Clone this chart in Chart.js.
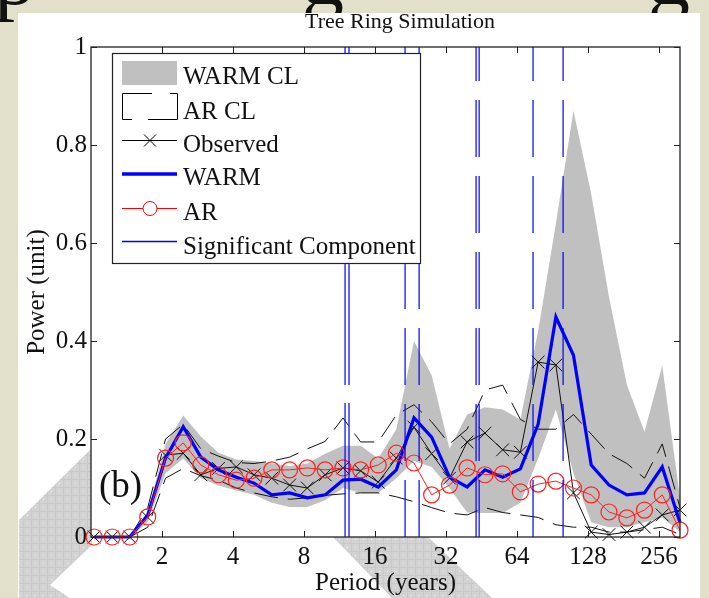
<!DOCTYPE html>
<html>
<head>
<meta charset="utf-8">
<script src="https://cdn.jsdelivr.net/npm/chart.js@4.4.0/dist/chart.umd.min.js"></script>
<style>
  html, body { margin: 0; padding: 0; background: #e2dfca; }
  #wrap { width: 709px; height: 598px; position: relative; }
  canvas { display: block; }
</style>
</head>
<body>
<div id="wrap"><canvas id="c" width="709" height="598"></canvas></div>
<script>
// ---- Data ----
const periods = [1.03, 1.23, 1.46, 1.74, 2.07, 2.46, 2.92, 3.47, 4.13, 4.91, 5.84, 6.95, 8.26, 9.83, 11.7, 13.9, 16.5, 19.7, 23.4, 27.8, 33.1, 39.3, 46.8, 55.6, 66.1, 78.6, 93.5, 111, 132, 157, 187, 222, 264, 314];
const warmClUpper = [0, 0, 0, 0.05, 0.19, 0.248, 0.205, 0.172, 0.158, 0.155, 0.15, 0.145, 0.15, 0.17, 0.186, 0.186, 0.16, 0.22, 0.40, 0.33, 0.18, 0.25, 0.265, 0.26, 0.24, 0.42, 0.64, 0.87, 0.70, 0.49, 0.31, 0.215, 0.35, 0.08];
const warmClLower = [0, 0, 0, 0.03, 0.13, 0.16, 0.12, 0.105, 0.095, 0.086, 0.07, 0.061, 0.061, 0.075, 0.1, 0.09, 0.09, 0.12, 0.155, 0.143, 0.1, 0.05, 0.049, 0.049, 0.07, 0.16, 0.26, 0.13, 0.03, 0.02, 0.02, 0.03, 0.04, 0.01];
const arClUpper = [0, 0, 0, 0.06, 0.2, 0.23, 0.18, 0.165, 0.152, 0.15, 0.155, 0.163, 0.18, 0.195, 0.243, 0.194, 0.194, 0.249, 0.27, 0.235, 0.19, 0.22, 0.3, 0.31, 0.24, 0.22, 0.22, 0.25, 0.21, 0.17, 0.15, 0.12, 0.19, 0.06];
const arClLower = [0, 0, 0, 0.02, 0.12, 0.14, 0.125, 0.116, 0.1, 0.09, 0.082, 0.077, 0.08, 0.085, 0.088, 0.09, 0.09, 0.082, 0.072, 0.06, 0.049, 0.045, 0.06, 0.05, 0.045, 0.04, 0.025, 0.02, 0.02, 0.01, 0.01, 0.015, 0.02, 0.005];
const observed = [0, 0, 0, 0.04, 0.167, 0.171, 0.127, 0.14, 0.143, 0.127, 0.12, 0.106, 0.1, 0.127, 0.141, 0.135, 0.112, 0.161, 0.224, 0.17, 0.12, 0.194, 0.212, 0.178, 0.173, 0.357, 0.351, 0.09, 0.01, 0.005, 0.01, 0.02, 0.045, 0.055];
const warm = [0, 0, 0, 0.045, 0.161, 0.225, 0.163, 0.137, 0.122, 0.11, 0.086, 0.09, 0.08, 0.086, 0.116, 0.118, 0.102, 0.137, 0.243, 0.204, 0.122, 0.102, 0.137, 0.122, 0.139, 0.23, 0.449, 0.371, 0.147, 0.106, 0.086, 0.09, 0.143, 0.029];
const ar = [0, 0, 0, 0.041, 0.161, 0.192, 0.147, 0.127, 0.116, 0.12, 0.137, 0.137, 0.141, 0.137, 0.141, 0.137, 0.147, 0.171, 0.151, 0.086, 0.106, 0.141, 0.127, 0.129, 0.092, 0.108, 0.114, 0.1, 0.086, 0.051, 0.039, 0.055, 0.086, 0.014];
const significantPeriods = [11.94, 12.41, 21.45, 24.6, 42.9, 44.2, 74.8, 100.3];
const xTickValues = [2, 4, 8, 16, 32, 64, 128, 256];
const yTickValues = [0, 0.2, 0.4, 0.6, 0.8, 1];
const legendLabels = ['WARM CL', 'AR CL', 'Observed', 'WARM', 'AR', 'Significant Component'];
const chartTitle = 'Tree Ring Simulation';

// ---- Styling ----
const SERIF = "'Liberation Serif', 'Times New Roman', 'DejaVu Serif', serif";
const pts = arr => periods.map((p, i) => ({ x: p, y: arr[i] }));

const sigDash = [[134, 18], [134, 18], [57, 19], [57, 19], [57, 19], [57, 19], [57, 19], [57, 19]];
const sigSets = significantPeriods.map((p, i) => ({
  label: 'Significant Component',
  data: [{ x: p, y: 0 }, { x: p, y: 1 }],
  borderColor: '#0000ff', borderWidth: 1.2, borderDash: sigDash[i],
  pointRadius: 0, fill: false, order: 0
}));

function makePattern(ctx) {
  const pc = document.createElement('canvas');
  pc.width = 8; pc.height = 8;
  const p = pc.getContext('2d');
  p.fillStyle = '#d3d3d3'; p.fillRect(0, 0, 8, 8);
  p.fillStyle = '#c9c9c9'; p.fillRect(0, 7, 8, 1); p.fillRect(7, 0, 1, 8);
  p.fillStyle = '#f4f4f4'; p.fillRect(3, 3, 1, 1);
  return ctx.createPattern(pc, 'repeat');
}

const backgroundPlugin = {
  id: 'bgPanel',
  beforeDraw(chart) {
    const ctx = chart.ctx;
    const ca = chart.chartArea;
    ctx.save();
    ctx.fillStyle = '#e2dfca';
    ctx.fillRect(0, 0, chart.width, chart.height);
    // fragments of the slide heading above the figure
    ctx.fillStyle = '#111';
    ctx.font = '84px ' + SERIF;
    ctx.textBaseline = 'alphabetic';
    ctx.fillText('p', -6, 4);
    ctx.fillText('g', 302, 4);
    ctx.fillText('g', 648, 4);
    ctx.fillStyle = '#ffffff';
    ctx.fillRect(18, 13, 682, 585);
    const pat = makePattern(ctx);
    ctx.fillStyle = pat;
    ctx.beginPath();
    ctx.moveTo(92, 448); ctx.lineTo(19, 520); ctx.lineTo(19, 598);
    ctx.lineTo(70, 598); ctx.lineTo(50, 585); ctx.lineTo(92, 545);
    ctx.closePath(); ctx.fill();
    ctx.beginPath();
    ctx.moveTo(333, 537); ctx.lineTo(428, 537); ctx.lineTo(492, 598); ctx.lineTo(392, 598);
    ctx.closePath(); ctx.fill();
    ctx.fillStyle = '#ffffff';
    ctx.fillRect(ca.left, ca.top, ca.right - ca.left, ca.bottom - ca.top);
    // title
    ctx.fillStyle = '#111';
    ctx.font = '22px ' + SERIF;
    ctx.textAlign = 'center';
    ctx.fillText(chartTitle, 400, 28);
    ctx.restore();
  }
};

const overlayPlugin = {
  id: 'overlay',
  afterDatasetsDraw(chart) {
    const ctx = chart.ctx;
    const ca = chart.chartArea;
    const xs = chart.scales.x, ys = chart.scales.y;
    ctx.save();
    ctx.strokeStyle = '#222'; ctx.lineWidth = 1.3;
    ctx.strokeRect(ca.left, ca.top, ca.right - ca.left, ca.bottom - ca.top);
    ctx.lineWidth = 1;
    ctx.beginPath();
    xTickValues.forEach(v => {
      const px = Math.round(xs.getPixelForValue(v)) + 0.5;
      ctx.moveTo(px, ca.bottom); ctx.lineTo(px, ca.bottom - 6);
      ctx.moveTo(px, ca.top); ctx.lineTo(px, ca.top + 6);
    });
    yTickValues.forEach(v => {
      const py = Math.round(ys.getPixelForValue(v)) + 0.5;
      ctx.moveTo(ca.left, py); ctx.lineTo(ca.left + 6, py);
      ctx.moveTo(ca.right, py); ctx.lineTo(ca.right - 6, py);
    });
    ctx.stroke();

    ctx.fillStyle = '#111';
    ctx.font = '37px ' + SERIF;
    ctx.textBaseline = 'alphabetic'; ctx.textAlign = 'left';
    ctx.fillText('(b)', 99, 497);

    // legend
    const L = 112, T = 53, R = 420, B = 263;
    ctx.fillStyle = '#ffffff';
    ctx.fillRect(L, T, R - L, B - T);
    ctx.strokeStyle = '#222'; ctx.lineWidth = 1.2;
    ctx.strokeRect(L + 0.5, T + 0.5, R - L, B - T);
    const sx0 = 122, sx1 = 177, cx = 150;
    ctx.fillStyle = '#c0c0c0';
    ctx.fillRect(sx0, 61, sx1 - sx0, 24);
    ctx.strokeStyle = '#000'; ctx.lineWidth = 1;
    ctx.beginPath();
    ctx.moveTo(sx0 + 0.5, 93.5); ctx.lineTo(152, 93.5);
    ctx.moveTo(170, 93.5); ctx.lineTo(sx1 + 0.5, 93.5); ctx.lineTo(sx1 + 0.5, 119.5); ctx.lineTo(148, 119.5);
    ctx.moveTo(132, 119.5); ctx.lineTo(sx0 + 0.5, 119.5); ctx.lineTo(sx0 + 0.5, 93.5);
    ctx.stroke();
    ctx.beginPath();
    ctx.moveTo(sx0, 140.5); ctx.lineTo(sx1, 140.5);
    ctx.moveTo(cx - 6, 134.5); ctx.lineTo(cx + 6, 146.5);
    ctx.moveTo(cx + 6, 134.5); ctx.lineTo(cx - 6, 146.5);
    ctx.stroke();
    ctx.strokeStyle = '#0000ff'; ctx.lineWidth = 3.5;
    ctx.beginPath(); ctx.moveTo(sx0, 174); ctx.lineTo(sx1, 174); ctx.stroke();
    ctx.strokeStyle = '#ff0000'; ctx.lineWidth = 1;
    ctx.beginPath(); ctx.moveTo(sx0, 208.5); ctx.lineTo(cx - 7, 208.5);
    ctx.moveTo(cx + 7, 208.5); ctx.lineTo(sx1, 208.5); ctx.stroke();
    ctx.beginPath(); ctx.arc(cx, 208.5, 7, 0, Math.PI * 2); ctx.stroke();
    ctx.strokeStyle = '#0000ff'; ctx.lineWidth = 1.3;
    ctx.beginPath(); ctx.moveTo(sx0, 241.5); ctx.lineTo(sx1, 241.5); ctx.stroke();
    ctx.fillStyle = '#111';
    ctx.font = '25px ' + SERIF;
    const baselines = [84, 119, 152, 185, 220, 254];
    legendLabels.forEach((t, i) => ctx.fillText(t, 183, baselines[i]));
    ctx.restore();
  }
};

const chart = new Chart(document.getElementById('c'), {
  type: 'line',
  data: {
    datasets: [
      { label: 'WARM CL', data: pts(warmClUpper), borderWidth: 0, borderColor: 'rgba(0,0,0,0)',
        backgroundColor: '#c0c0c0', fill: '+1', pointRadius: 0, order: 6 },
      { label: 'WARM CL lower', data: pts(warmClLower), borderWidth: 0, borderColor: 'rgba(0,0,0,0)',
        fill: false, pointRadius: 0, order: 6 },
      { label: 'AR CL', data: pts(arClUpper), borderColor: '#111', borderWidth: 1, borderDash: [24, 10],
        fill: false, pointRadius: 0, order: 5 },
      { label: 'AR CL lower', data: pts(arClLower), borderColor: '#111', borderWidth: 1, borderDash: [24, 10],
        fill: false, pointRadius: 0, order: 5 },
      { label: 'Observed', data: pts(observed), borderColor: '#111', borderWidth: 1,
        pointStyle: 'crossRot', pointRadius: 9, pointBorderColor: '#111', pointBorderWidth: 1,
        fill: false, order: 4 },
      { label: 'WARM', data: pts(warm), borderColor: '#0000ff', borderWidth: 3.2,
        pointRadius: 0, fill: false, order: 3 },
      { label: 'AR', data: pts(ar), borderColor: '#ff2020', borderWidth: 1,
        pointStyle: 'circle', pointRadius: 8, pointBorderColor: '#ff2020', pointBorderWidth: 1.2,
        pointBackgroundColor: 'rgba(0,0,0,0)', fill: false, order: 2 },
      ...sigSets
    ]
  },
  options: {
    responsive: false,
    devicePixelRatio: 1,
    animation: false,
    clip: false,
    layout: { padding: { left: 0, right: 29, top: 47, bottom: 0 } },
    elements: { line: { tension: 0 } },
    plugins: {
      legend: { display: false },
      tooltip: { enabled: false },
      title: { display: false }
    },
    scales: {
      x: {
        type: 'logarithmic', min: 1, max: 314,
        grid: { display: false, drawTicks: false },
        border: { display: false },
        afterBuildTicks: s => { s.ticks = xTickValues.map(v => ({ value: v })); },
        afterFit: s => { s.height = 61; },
        ticks: {
          autoSkip: false, maxRotation: 0, padding: 5, color: '#111',
          font: { family: SERIF, size: 25 },
          callback: v => String(v)
        },
        title: { display: true, text: 'Period (years)', color: '#111',
          font: { family: SERIF, size: 25 }, padding: { top: 0, bottom: 0 } }
      },
      y: {
        type: 'linear', min: 0, max: 1,
        grid: { display: false, drawTicks: false },
        border: { display: false },
        afterBuildTicks: s => { s.ticks = yTickValues.map(v => ({ value: v })); },
        afterFit: s => { s.width = 91; },
        ticks: { padding: 4, color: '#111', font: { family: SERIF, size: 25 },
          callback: v => String(Math.round(v * 10) / 10) },
        title: { display: true, text: 'Power (unit)', color: '#111',
          font: { family: SERIF, size: 25 }, padding: { top: 22, bottom: 0 } }
      }
    }
  },
  plugins: [backgroundPlugin, overlayPlugin]
});
</script>
</body>
</html>
